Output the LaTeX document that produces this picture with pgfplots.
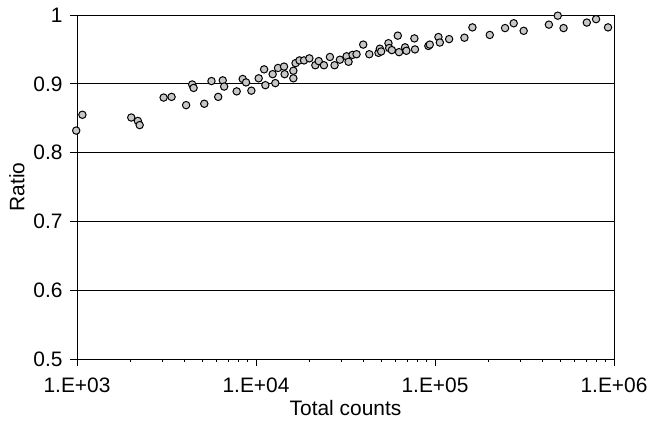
\documentclass[border=0pt]{standalone}
\usepackage{pgfplots}
\pgfplotsset{compat=1.18}
\usepackage{fontspec}
\setmainfont{Liberation Sans}

\begin{document}
\begin{tikzpicture}
\useasboundingbox (-77bp,-65bp) rectangle (573bp,359bp);
\begin{axis}[
  scale only axis,
  width=537bp, height=344bp,
  xmode=log,
  xmin=1000, xmax=1000000,
  ymin=0.5, ymax=1,
  xtick={1000,10000,100000,1000000},
  xticklabels={1.E+03,1.E+04,1.E+05,1.E+06},
  ytick={0.5,0.6,0.7,0.8,0.9,1},
  yticklabels={0.5,0.6,0.7,0.8,0.9,1},
  minor xtick={},
  tick align=outside,
  major tick length=7bp,
  tick style={black, line width=0.8bp},
  xtick pos=bottom, ytick pos=left,
  ymajorgrids,
  grid style={black, line width=1bp},
  axis line style={black, line width=1bp},
  font=\fontsize{21}{25}\selectfont,
  tick label style={font=\fontsize{21}{25}\selectfont},
  /pgf/number format/assume math mode=true,
  xticklabel style={yshift=-8bp},
  yticklabel style={xshift=-4bp},
  xlabel={Total counts},
  ylabel={Ratio},
  xlabel style={yshift=-1bp},
  ylabel style={yshift=2bp},
  clip=false,
]
\addplot[only marks, mark=*, mark size=3.7bp,
  mark options={fill=black!22, draw=black, line width=1bp}]
  table[row sep=\\] {
  x y \\
  990 0.832 \\
  1072 0.855 \\
  2010 0.851 \\
  2188 0.846 \\
  2239 0.840 \\
  3047 0.880 \\
  3375 0.881 \\
  4070 0.869 \\
  4400 0.899 \\
  4480 0.894 \\
  5140 0.871 \\
  5640 0.904 \\
  6150 0.881 \\
  6520 0.905 \\
  6640 0.896 \\
  7800 0.889 \\
  8430 0.907 \\
  8800 0.902 \\
  9420 0.890 \\
  10350 0.908 \\
  11100 0.921 \\
  11280 0.898 \\
  12390 0.914 \\
  12820 0.901 \\
  13270 0.923 \\
  14340 0.925 \\
  14450 0.914 \\
  16170 0.908 \\
  16170 0.919 \\
  16630 0.930 \\
  17500 0.934 \\
  18550 0.934 \\
  19870 0.937 \\
  21450 0.927 \\
  22400 0.933 \\
  23960 0.927 \\
  25880 0.939 \\
  27470 0.927 \\
  29430 0.935 \\
  32070 0.940 \\
  32890 0.932 \\
  34600 0.942 \\
  36450 0.943 \\
  39730 0.957 \\
  42950 0.943 \\
  48330 0.945 \\
  49200 0.951 \\
  50030 0.947 \\
  54950 0.959 \\
  55450 0.952 \\
  57390 0.949 \\
  61950 0.970 \\
  62970 0.946 \\
  68030 0.953 \\
  69200 0.948 \\
  76700 0.966 \\
  77300 0.950 \\
  91800 0.955 \\
  93500 0.957 \\
  104500 0.968 \\
  106400 0.960 \\
  119900 0.965 \\
  146000 0.967 \\
  161800 0.982 \\
  202300 0.971 \\
  246200 0.981 \\
  275200 0.988 \\
  312900 0.977 \\
  432700 0.986 \\
  485000 0.999 \\
  522600 0.981 \\
  704800 0.989 \\
  794000 0.994 \\
  926000 0.982 \\
  };
\end{axis}
\end{tikzpicture}
\end{document}
